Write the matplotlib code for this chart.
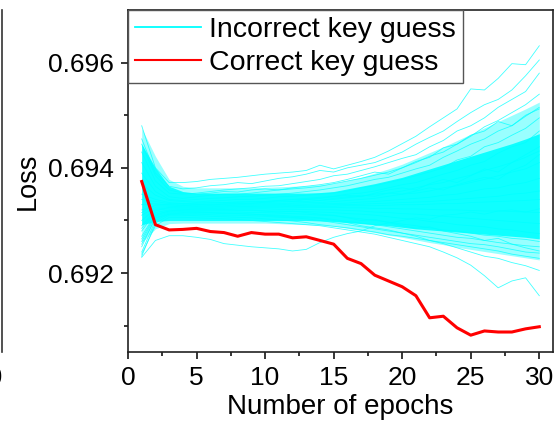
import numpy as np
import matplotlib.pyplot as plt
from matplotlib.lines import Line2D

plt.rcParams['font.family'] = ['Liberation Sans', 'DejaVu Sans']

epochs = list(range(1, 31))

# correct key guess
correct_loss = [0.69374, 0.69292, 0.69282, 0.69283, 0.69285, 0.69279, 0.69277, 0.69270, 0.69277, 0.69274,
                0.69274, 0.69267, 0.69269, 0.69262, 0.69255, 0.69228, 0.69218, 0.69196, 0.69185, 0.69174,
                0.69157, 0.69115, 0.69118, 0.69096, 0.69082, 0.69090, 0.69088, 0.69088, 0.69094, 0.69098]

# dense core of the incorrect guesses (loss - 0.69, in 1e-5)
band_low = [292, 298, 300, 300, 300, 300, 300, 300, 300, 300, 300, 300, 300, 299, 298,
            296, 294, 292, 290, 287, 284, 282, 280, 278, 276, 274, 272, 270, 268, 265]
band_high = [445, 400, 365, 355, 352, 352, 352, 352, 352, 352, 352, 352, 352, 353, 355,
             360, 365, 370, 376, 382, 390, 398, 406, 414, 422, 430, 438, 446, 455, 465]
# thinner outer part of the bundle
outer_low = [258, 284, 294, 295, 295, 295, 295, 295, 295, 295, 294, 293, 292, 291, 289,
             285, 281, 277, 272, 268, 263, 258, 254, 249, 245, 241, 237, 233, 229, 225]
outer_high = [475, 422, 378, 365, 362, 362, 362, 362, 362, 363, 364, 365, 366, 368, 371,
              376, 382, 390, 398, 407, 418, 429, 440, 452, 464, 476, 488, 500, 512, 525]

# some single incorrect guesses (loss - 0.69, in 1e-5)
incorrect = [
    [480, 400, 372, 372, 374, 378, 380, 382, 385, 388, 390, 392, 395, 405, 398, 405, 412, 420, 432, 446, 460, 478, 495, 512, 550, 548, 570, 598, 596, 632],
    [455, 390, 365, 360, 362, 366, 368, 372, 370, 375, 380, 383, 388, 395, 392, 400, 405, 410, 420, 430, 445, 458, 470, 488, 505, 520, 530, 548, 575, 605],
    [430, 375, 352, 350, 352, 355, 358, 360, 362, 365, 366, 370, 374, 378, 385, 388, 395, 402, 410, 418, 425, 440, 452, 470, 480, 495, 515, 530, 545, 580],
    [410, 365, 345, 342, 345, 348, 350, 350, 352, 355, 358, 360, 362, 365, 370, 375, 380, 386, 392, 400, 412, 420, 438, 445, 460, 478, 490, 505, 520, 540],
    [390, 355, 340, 338, 340, 342, 343, 345, 346, 348, 350, 352, 355, 358, 362, 366, 372, 378, 382, 390, 398, 405, 420, 432, 445, 455, 470, 480, 498, 515],
    [370, 348, 338, 336, 335, 337, 338, 340, 340, 342, 345, 346, 348, 350, 352, 356, 362, 366, 372, 378, 385, 392, 400, 415, 422, 440, 448, 462, 475, 495],
    [350, 340, 334, 332, 333, 333, 334, 335, 336, 336, 338, 340, 342, 344, 346, 350, 352, 356, 362, 368, 372, 380, 388, 395, 405, 412, 428, 440, 448, 470],
    [340, 336, 332, 331, 330, 331, 332, 332, 333, 334, 335, 336, 336, 338, 340, 343, 346, 350, 352, 356, 362, 368, 372, 380, 386, 395, 402, 410, 425, 440],
    [330, 332, 330, 329, 329, 330, 330, 330, 331, 332, 332, 333, 334, 334, 336, 338, 340, 342, 346, 350, 352, 356, 362, 366, 372, 378, 385, 392, 398, 410],
    [320, 328, 328, 328, 327, 328, 328, 329, 329, 330, 330, 331, 331, 332, 332, 333, 335, 336, 338, 340, 342, 344, 348, 350, 355, 360, 362, 368, 372, 380],
    [310, 325, 326, 326, 326, 326, 327, 327, 327, 328, 328, 328, 329, 329, 330, 330, 331, 332, 333, 334, 335, 336, 338, 340, 342, 344, 346, 350, 352, 356],
    [300, 322, 324, 325, 325, 325, 325, 326, 326, 326, 326, 327, 327, 327, 327, 328, 328, 328, 329, 330, 330, 331, 332, 332, 334, 335, 336, 337, 338, 340],
    [290, 320, 322, 323, 323, 323, 323, 324, 324, 324, 324, 324, 325, 325, 325, 324, 324, 323, 323, 322, 322, 321, 320, 320, 319, 318, 318, 317, 316, 315],
    [280, 315, 320, 321, 321, 321, 321, 322, 322, 322, 321, 321, 321, 320, 320, 319, 318, 316, 315, 313, 312, 310, 308, 306, 304, 302, 300, 298, 296, 294],
    [270, 312, 318, 319, 319, 319, 319, 319, 319, 318, 318, 317, 317, 316, 315, 313, 312, 310, 307, 304, 302, 298, 296, 292, 290, 288, 284, 282, 278, 275],
    [260, 308, 316, 317, 317, 316, 316, 316, 315, 315, 314, 313, 312, 310, 309, 306, 303, 300, 297, 293, 290, 286, 282, 280, 276, 272, 270, 266, 264, 260],
    [250, 305, 314, 315, 314, 314, 313, 313, 312, 311, 310, 308, 307, 305, 302, 298, 295, 292, 288, 284, 280, 276, 272, 268, 266, 262, 258, 255, 252, 250],
    [240, 300, 312, 312, 312, 311, 310, 310, 309, 308, 306, 305, 303, 300, 296, 292, 288, 284, 280, 276, 272, 268, 264, 260, 256, 254, 250, 245, 240, 238],
    [232, 295, 310, 310, 309, 308, 307, 306, 305, 303, 301, 299, 296, 292, 289, 286, 282, 278, 273, 270, 266, 262, 258, 254, 250, 246, 242, 236, 232, 228],
    [236, 290, 306, 306, 305, 304, 303, 302, 300, 298, 296, 294, 292, 290, 286, 282, 278, 274, 268, 262, 256, 250, 240, 229, 215, 195, 172, 185, 191, 157],
    [230, 262, 271, 271, 268, 264, 256, 253, 250, 248, 246, 242, 245, 258, 268, 275, 280, 290, 295, 300, 305, 302, 310, 312, 316, 312, 318, 320, 316, 322],
    [445, 385, 358, 352, 350, 352, 355, 354, 358, 360, 358, 362, 365, 368, 372, 378, 385, 392, 388, 400, 410, 422, 430, 445, 462, 470, 488, 480, 500, 512],
    [285, 318, 325, 328, 330, 329, 331, 333, 332, 335, 337, 336, 340, 342, 345, 348, 345, 352, 358, 362, 358, 370, 378, 372, 385, 398, 392, 410, 420, 432],
    [315, 330, 331, 332, 333, 334, 334, 335, 335, 336, 338, 339, 340, 338, 342, 345, 348, 346, 352, 350, 356, 362, 358, 368, 375, 382, 378, 395, 405, 425],
    [265, 310, 318, 320, 322, 322, 321, 320, 320, 318, 316, 318, 315, 312, 310, 305, 300, 302, 296, 290, 285, 288, 280, 275, 270, 262, 266, 255, 248, 242],
    [255, 304, 312, 314, 315, 315, 314, 313, 312, 310, 308, 306, 305, 304, 300, 296, 290, 286, 282, 276, 270, 262, 256, 248, 240, 232, 228, 220, 214, 205],
]

cyan = '#00ffff'

fig = plt.figure(figsize=(5.57, 4.23), dpi=100)
ax = fig.add_axes([128 / 557, 71 / 423, 425 / 557, 342 / 423])

to_loss = lambda a: 0.69 + np.array(a) * 1e-5
ax.fill_between(epochs, to_loss(outer_low), to_loss(outer_high), color=cyan, alpha=0.4, lw=0)
ax.fill_between(epochs, to_loss(band_low), to_loss(band_high), color=cyan, alpha=0.9, lw=0)
for row in incorrect:
    ax.plot(epochs, to_loss(row), color=cyan, lw=0.6, alpha=0.75)
ax.plot(epochs, correct_loss, color='#ff0000', lw=2.2)

ax.set_xlim(0, 31)
ax.set_ylim(0.6905, 0.6970)
ax.set_xticks([0, 5, 10, 15, 20, 25, 30])
ax.set_xticks(np.arange(2.5, 31, 5), minor=True)
ax.set_yticks([0.692, 0.694, 0.696])
ax.set_yticklabels(['0.692', '0.694', '0.696'])
ax.set_yticks([0.691, 0.693, 0.695], minor=True)
ax.tick_params(which='major', length=5, width=1.1, labelsize=19, pad=5)
ax.tick_params(which='minor', length=3, width=1.1)
for s in ax.spines.values():
    s.set_linewidth(1.2)
    s.set_color('#222222')

ax.set_xlabel('Number of epochs', fontsize=20, labelpad=3)
ax.set_ylabel('Loss', fontsize=19.5, labelpad=5)

handles = [Line2D([], [], color=cyan, lw=1.3), Line2D([], [], color='#ff0000', lw=1.5)]
leg = ax.legend(handles, ['Incorrect key guess', 'Correct key guess'], loc='upper left',
                fontsize=20.5, frameon=True, fancybox=False, borderaxespad=0, borderpad=0.25,
                handlelength=2.3, handletextpad=0.3, labelspacing=0.25)
leg.get_frame().set_edgecolor('#555555')
leg.get_frame().set_linewidth(1.0)
leg.get_frame().set_alpha(1)

# edge of the neighbouring panel
fig.add_artist(Line2D([2 / 557, 2 / 557], [1 - 10 / 423, 1 - 352 / 423], transform=fig.transFigure,
                      color='#333333', lw=1.2))
fig.text(3 / 557, 1 - 378 / 423, '30', ha='right', va='center', fontsize=19)

fig.savefig('out.png', dpi=100)
